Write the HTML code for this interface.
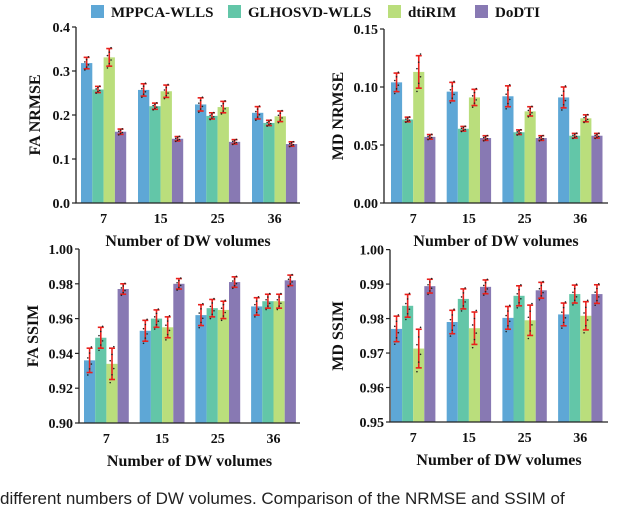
<!DOCTYPE html>
<html><head><meta charset="utf-8"><style>
body{margin:0;background:#fff;width:640px;height:495px;overflow:hidden;position:relative}
svg{position:absolute;left:0;top:0}
text{font-family:"Liberation Serif",serif;font-weight:bold;fill:#111}
.cap{position:absolute;left:0;top:489px;font-family:"Liberation Sans",sans-serif;font-size:17px;line-height:20px;color:#222;white-space:nowrap}
</style></head><body>
<svg id="chart" width="640" height="495"></svg>
<div class="cap">different numbers of DW volumes. Comparison of the NRMSE and SSIM of</div>
<script>
const categories=["7","15","25","36"];
const seriesNames=["MPPCA-WLLS","GLHOSVD-WLLS","dtiRIM","DoDTI"];
const faNrmse=[[.318,.258,.331,.162],[.257,.220,.254,.146],[.224,.198,.218,.139],[.205,.182,.197,.134]];
const faNrmseErr=[[.013,.007,.020,.006],[.014,.007,.014,.005],[.015,.007,.013,.005],[.014,.006,.012,.005]];
const mdNrmse=[[.104,.072,.113,.057],[.096,.064,.091,.056],[.092,.061,.079,.056],[.091,.058,.073,.058]];
const mdNrmseErr=[[.008,.002,.014,.002],[.008,.002,.007,.002],[.009,.002,.004,.002],[.009,.002,.003,.002]];
const faSsim=[[.936,.949,.934,.977],[.953,.960,.955,.980],[.962,.966,.965,.981],[.967,.970,.970,.982]];
const faSsimErr=[[.007,.006,.009,.003],[.006,.005,.006,.003],[.006,.005,.005,.003],[.005,.004,.004,.003]];
const mdSsim=[[.977,.9837,.9713,.9894],[.979,.9857,.9772,.9892],[.9802,.9866,.9795,.9882],[.9812,.9871,.9808,.9871]];
const mdSsimErr=[[.0037,.0033,.0056,.002],[.0034,.0029,.0047,.002],[.0033,.0029,.0044,.0023],[.0033,.0026,.0041,.0027]];
const faNrmseTicks=["0.0","0.1","0.2","0.3","0.4"];
const mdNrmseTicks=["0.00","0.05","0.10","0.15"];
const faSsimTicks=["0.90","0.92","0.94","0.96","0.98","1.00"];
const mdSsimTicks=["0.95","0.96","0.97","0.98","0.99","1.00"];
const colors=["#5ea7d6","#63c6a8","#bade7c","#8879b3"];
const NS="http://www.w3.org/2000/svg";
const svg=document.getElementById("chart");
function mk(tag,attrs,parent){const e=document.createElementNS(NS,tag);for(const k in attrs)e.setAttribute(k,attrs[k]);(parent||svg).appendChild(e);return e;}

function panel(o){
  const g=mk("g",{});
  
  
  const ticks=o.ticks.map(Number);
  const y0=ticks[0],y1=ticks[ticks.length-1];
  const ys=v=>o.yb-(v-y0)/(y1-y0)*(o.yb-o.yt);
  const xs=(ci,si)=>o.g0+ci*o.step+si*o.bw;
  o.data.forEach((grp,ci)=>{
    grp.forEach((v,si)=>{
      const x=xs(ci,si),y=ys(v);
      const r=mk("rect",{x:x,y:y,width:o.bw,height:o.yb-y,fill:colors[si]},g);
      
      
      const e=o.err[ci][si],cx=x+o.bw/2;
      const eb=mk("g",{stroke:"#e8201c","stroke-width":1.6},g);
      
      
      mk("line",{x1:cx,x2:cx,y1:ys(v+e),y2:ys(v-e)},eb);
      mk("line",{x1:cx-3,x2:cx+3,y1:ys(v+e),y2:ys(v+e)},eb);
      mk("line",{x1:cx-3,x2:cx+3,y1:ys(v-e),y2:ys(v-e)},eb);
      [-1.2,-0.7,-0.3,0.2,0.6,1.1].forEach((k,i)=>{
        mk("circle",{cx:cx+((i%3)-1)*1.8,cy:ys(v+k*e),r:0.8,fill:"#222"},g);
      });
    });
    const t=mk("text",{x:xs(ci,0)+o.bw*2,y:o.yb+20,"text-anchor":"middle","font-size":14},g);
    t.textContent=categories[ci];
    
    
  });
  const ax=mk("path",{d:`M${o.ax},${o.yt} V${o.yb} H${o.xe}`,stroke:"#222","stroke-width":1.3,fill:"none"},g);
  
  
  o.ticks.forEach(tl=>{
    const y=ys(Number(tl));
    mk("line",{x1:o.ax-4,x2:o.ax,y1:y,y2:y,stroke:"#222","stroke-width":1.2},g);
    const t=mk("text",{x:o.ax-6,y:y+5,"text-anchor":"end","font-size":14},g);
    t.textContent=tl;
    
    
  });
  const yt=mk("text",{x:0,y:0,"text-anchor":"middle","font-size":16,transform:`translate(${o.ytx},${(o.yt+o.yb)/2}) rotate(-90)`},g);
  yt.textContent=o.ytitle;
  
  
  const xt=mk("text",{x:(o.ax+o.xe)/2,y:o.yb+43,"text-anchor":"middle","font-size":16},g);
  xt.textContent="Number of DW volumes";
  
  
}
panel({name:"fa-nrmse-panel",data:faNrmse,err:faNrmseErr,ticks:faNrmseTicks,ax:76,xe:300,g0:81,step:57,bw:11.3,yt:27,yb:203,ytx:40,ytitle:"FA  NRMSE"});
panel({name:"md-nrmse-panel",data:mdNrmse,err:mdNrmseErr,ticks:mdNrmseTicks,ax:384,xe:608,g0:391,step:55.7,bw:11.1,yt:29,yb:203,ytx:343,ytitle:"MD  NRMSE"});
panel({name:"fa-ssim-panel",data:faSsim,err:faSsimErr,ticks:faSsimTicks,ax:79,xe:300,g0:84,step:55.7,bw:11.2,yt:249,yb:423,ytx:38,ytitle:"FA  SSIM"});
panel({name:"md-ssim-panel",data:mdSsim,err:mdSsimErr,ticks:mdSsimTicks,ax:390,xe:608,g0:391,step:55.7,bw:11.1,yt:249.6,yb:422,ytx:343,ytitle:"MD  SSIM"});
const legX=[91,228,388,475];
seriesNames.forEach((n,i)=>{
  const lg=mk("g",{});
  
  
  mk("rect",{x:legX[i],y:5,width:13,height:13,fill:colors[i]},lg);
  const t=mk("text",{x:legX[i]+20,y:17,"font-size":15},lg);
  t.textContent=n;
});
</script>
</body></html>
